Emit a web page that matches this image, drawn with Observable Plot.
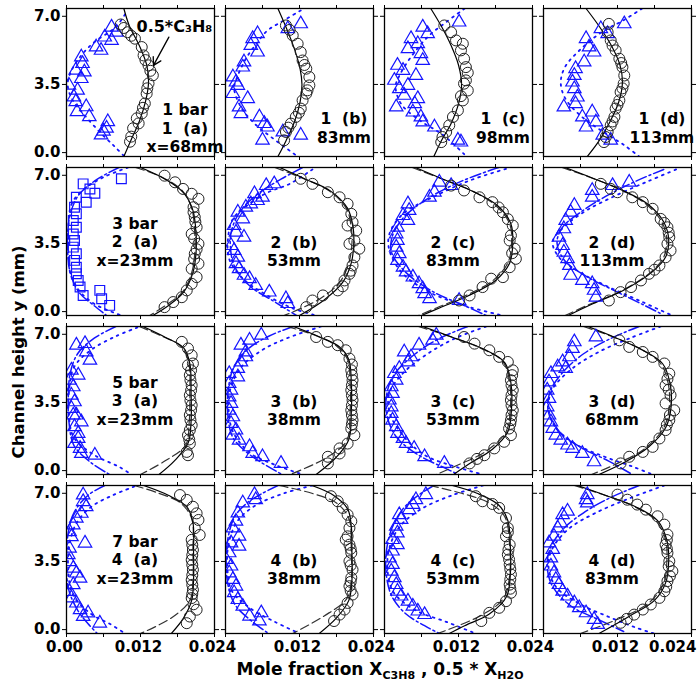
<!DOCTYPE html>
<html><head><meta charset="utf-8">
<script src="https://cdn.jsdelivr.net/npm/d3@7"></script>
<script src="https://cdn.jsdelivr.net/npm/@observablehq/plot@0.6"></script>
<style>body{margin:0;background:#fff}</style>
</head><body><div id="chart"></div>
<script>
// ---------- categories / ticks ----------
const columns = ["a", "b", "c", "d"];
const rows = ["1", "2", "3", "4"];
const xTicks = [0, 0.006, 0.012, 0.018, 0.024];
const yTicks = [0, 3.5, 7.0];
const xTickValues = [0, 0.012, 0.024];
const xTickText = ["0.00", "0.012", "0.024"];
const panelText = {
  "1a": "1 bar\n1\u00a0\u00a0(a)\nx=68mm", "1b": "1\u00a0\u00a0(b)\n83mm", "1c": "1\u00a0\u00a0(c)\n98mm", "1d": "1\u00a0\u00a0(d)\n113mm",
  "2a": "3 bar\n2\u00a0\u00a0(a)\nx=23mm", "2b": "2\u00a0\u00a0(b)\n53mm", "2c": "2\u00a0\u00a0(c)\n83mm", "2d": "2\u00a0\u00a0(d)\n113mm",
  "3a": "5 bar\n3\u00a0\u00a0(a)\nx=23mm", "3b": "3\u00a0\u00a0(b)\n38mm", "3c": "3\u00a0\u00a0(c)\n53mm", "3d": "3\u00a0\u00a0(d)\n68mm",
  "4a": "7 bar\n4\u00a0\u00a0(a)\nx=23mm", "4b": "4\u00a0\u00a0(b)\n38mm", "4c": "4\u00a0\u00a0(c)\n53mm", "4d": "4\u00a0\u00a0(d)\n83mm"
};
const annotation = [{panel: "1a", x: 0.0175, y: 6.48, text: "0.5*C\u2083H\u2088"}];
const annotationArrow = [{panel: "1a", x1: 0.0166, y1: 5.93, x2: 0.0141, y2: 4.48}];

// ---------- measured 0.5*X_C3H8 (circles) ----------
const circles = {
  "1a": [[0.0088,6.58],[0.0093,6.4],[0.0099,6.18],[0.0105,6.0],[0.0111,5.85],[0.0122,5.42],[0.0125,4.99],[0.0128,4.75],[0.0133,4.48],[0.0136,4.2],[0.0140,3.97],[0.0133,3.55],[0.0131,3.3],[0.0130,3.03],[0.0127,2.52],[0.0124,2.3],[0.0122,2.01],[0.0114,1.76],[0.0117,1.5],[0.0108,1.25],[0.0105,0.82],[0.0103,0.56]],
  "1b": [[0.0098,6.53],[0.0104,6.3],[0.0109,6.02],[0.0117,5.59],[0.0122,5.16],[0.0125,4.73],[0.0128,4.5],[0.0131,4.31],[0.0136,3.88],[0.0136,3.45],[0.0133,3.2],[0.0131,3.03],[0.0125,2.68],[0.0122,2.26],[0.0119,2.05],[0.0114,1.83],[0.0106,1.49],[0.0102,1.28],[0.0098,1.06],[0.0095,0.63]],
  "1c": [[0.0097,6.53],[0.0108,6.18],[0.0116,5.76],[0.0127,5.59],[0.0124,5.25],[0.0129,4.82],[0.0132,4.39],[0.0135,4.1],[0.0132,3.71],[0.0129,3.54],[0.0135,3.19],[0.0124,2.9],[0.0127,2.68],[0.0119,2.17],[0.0111,1.83],[0.0105,1.4],[0.0100,1.06],[0.0094,0.8],[0.0092,0.54]],
  "1d": [[0.0106,6.61],[0.0104,6.18],[0.0109,5.76],[0.0112,5.5],[0.0117,5.25],[0.0123,4.82],[0.0126,4.6],[0.0128,4.39],[0.0131,3.96],[0.0130,3.54],[0.0128,3.3],[0.0125,3.11],[0.0123,2.68],[0.0120,2.45],[0.0117,2.26],[0.0115,1.83],[0.0112,1.6],[0.0109,1.4],[0.0104,1.06],[0.0101,0.8],[0.0098,0.54]],
  "2a": [[0.0159,6.98],[0.0176,6.64],[0.0189,6.30],[0.0203,6.05],[0.0214,5.79],[0.0206,5.36],[0.0206,5.1],[0.0208,4.85],[0.0209,4.6],[0.0211,4.33],[0.0203,3.99],[0.0207,3.75],[0.0214,3.48],[0.0211,3.2],[0.0208,2.97],[0.0207,2.7],[0.0214,2.46],[0.0203,2.2],[0.0211,1.77],[0.0203,1.43],[0.0195,1.09],[0.0187,0.74],[0.0173,0.49],[0.0159,0.23]],
  "2b": [[0.0122,6.82],[0.0141,6.56],[0.0166,6.13],[0.0185,5.87],[0.0198,5.53],[0.0204,5.02],[0.0206,4.59],[0.0198,4.42],[0.0212,4.16],[0.0209,3.65],[0.0201,3.48],[0.0217,3.23],[0.0209,2.79],[0.0206,2.37],[0.0203,2.1],[0.0201,1.94],[0.0193,1.6],[0.0190,1.3],[0.0182,1.09],[0.0158,0.83],[0.0141,0.57],[0.0131,0.23]],
  "2c": [[0.0108,6.47],[0.0129,6.22],[0.0154,5.87],[0.0175,5.62],[0.0185,5.35],[0.0192,5.1],[0.0200,4.75],[0.0208,4.42],[0.0205,3.91],[0.0203,3.65],[0.0211,3.23],[0.0207,3.0],[0.0213,2.71],[0.0203,2.28],[0.0192,1.77],[0.0173,1.69],[0.0159,1.26],[0.0138,0.83],[0.0121,0.57]],
  "2d": [[0.0093,6.56],[0.0109,6.3],[0.0120,6.13],[0.0144,5.87],[0.0161,5.62],[0.0177,5.28],[0.0190,4.76],[0.0196,4.55],[0.0201,4.33],[0.0203,4.05],[0.0204,3.82],[0.0201,3.48],[0.0206,3.14],[0.0198,2.79],[0.0188,2.37],[0.0180,2.15],[0.0171,1.94],[0.0158,1.6],[0.0142,1.26],[0.0125,1.0],[0.0106,0.57]],
  "3a": [[0.0187,6.61],[0.0197,6.27],[0.0203,5.92],[0.0205,5.5],[0.0197,5.41],[0.0202,5.15],[0.0200,4.9],[0.0201,4.64],[0.0203,4.38],[0.0202,4.12],[0.0200,3.87],[0.0201,3.6],[0.0203,3.36],[0.0202,3.1],[0.0200,2.85],[0.0201,2.6],[0.0203,2.33],[0.0200,2.08],[0.0197,1.82],[0.0199,1.6],[0.0200,1.39],[0.0195,0.96],[0.0197,0.79]],
  "3b": [[0.0147,6.86],[0.0166,6.61],[0.0182,6.44],[0.0195,6.18],[0.0201,5.75],[0.0205,5.45],[0.0204,5.15],[0.0205,4.9],[0.0206,4.64],[0.0205,4.38],[0.0204,4.13],[0.0205,3.86],[0.0206,3.62],[0.0205,3.35],[0.0204,3.1],[0.0205,2.85],[0.0206,2.59],[0.0205,2.38],[0.0204,2.16],[0.0209,1.82],[0.0198,1.39],[0.0185,1.14],[0.0185,0.88],[0.0166,0.71],[0.0166,0.37]],
  "3c": [[0.0129,6.86],[0.0146,6.52],[0.0170,6.18],[0.0186,5.84],[0.0200,5.58],[0.0208,5.15],[0.0207,4.9],[0.0205,4.64],[0.0206,4.38],[0.0208,4.13],[0.0206,3.86],[0.0205,3.62],[0.0206,3.35],[0.0208,3.1],[0.0206,2.85],[0.0205,2.59],[0.0204,2.4],[0.0202,2.16],[0.0205,1.82],[0.0194,1.48],[0.0178,1.14],[0.0162,0.79],[0.0150,0.6],[0.0138,0.37]],
  "3d": [[0.0123,6.69],[0.0139,6.35],[0.0161,6.09],[0.0177,5.84],[0.0196,5.5],[0.0204,4.98],[0.0201,4.7],[0.0198,4.38],[0.0203,4.15],[0.0206,3.87],[0.0198,3.45],[0.0212,3.1],[0.0205,2.85],[0.0204,2.59],[0.0200,2.35],[0.0198,2.08],[0.0188,1.65],[0.0177,1.22],[0.0161,0.96],[0.0139,0.71],[0.0125,0.37]],
  "4a": [[0.0184,6.91],[0.0195,6.66],[0.0205,6.31],[0.0211,5.97],[0.0214,5.63],[0.0208,5.21],[0.0216,4.86],[0.0203,4.61],[0.0204,4.35],[0.0205,4.09],[0.0204,3.83],[0.0203,3.58],[0.0204,3.32],[0.0205,3.07],[0.0204,2.8],[0.0203,2.55],[0.0204,2.3],[0.0205,2.04],[0.0204,1.83],[0.0203,1.62],[0.0206,1.3],[0.0211,1.02],[0.0200,0.67],[0.0195,0.33]],
  "4b": [[0.0171,6.85],[0.0182,6.59],[0.0190,6.25],[0.0198,5.9],[0.0204,5.56],[0.0201,5.22],[0.0198,4.79],[0.0195,4.62],[0.0201,4.36],[0.0203,4.15],[0.0204,3.94],[0.0201,3.51],[0.0203,3.3],[0.0206,3.08],[0.0204,2.66],[0.0203,2.45],[0.0201,2.23],[0.0203,2.0],[0.0206,1.8],[0.0198,1.37],[0.0193,1.03],[0.0185,0.77],[0.0176,0.44]],
  "4c": [[0.0148,6.85],[0.0159,6.59],[0.0175,6.45],[0.0186,6.25],[0.0197,5.73],[0.0200,5.22],[0.0200,5.0],[0.0197,4.79],[0.0203,4.36],[0.0201,4.1],[0.0200,3.85],[0.0202,3.6],[0.0203,3.34],[0.0204,3.1],[0.0205,2.83],[0.0204,2.57],[0.0203,2.31],[0.0204,2.1],[0.0205,1.89],[0.0197,1.46],[0.0186,1.12],[0.0170,0.86],[0.0157,0.44]],
  "4d": [[0.0120,6.93],[0.0136,6.67],[0.0152,6.42],[0.0166,6.16],[0.0185,5.82],[0.0196,5.39],[0.0201,4.88],[0.0200,4.6],[0.0198,4.36],[0.0200,4.15],[0.0201,3.94],[0.0204,3.51],[0.0203,3.25],[0.0209,3.0],[0.0205,2.75],[0.0201,2.49],[0.0199,2.2],[0.0196,1.97],[0.0188,1.63],[0.0174,1.29],[0.0161,1.03],[0.0147,0.77],[0.0135,0.55],[0.0125,0.35]]
};

// ---------- measured 0.5*X_H2O (triangles, squares in 2a) ----------
const triangles = {
  "1a": [[0.0073,6.44],[0.0081,6.18],[0.0062,5.93],[0.0073,5.76],[0.0048,5.42],[0.0056,5.25],[0.0024,4.91],[0.0026,4.57],[0.0015,4.23],[0.0029,4.14],[0.0024,3.8],[0.0004,3.46],[0.0018,3.2],[0.0012,2.86],[0.0015,2.61],[0.0032,2.35],[0.0017,2.1],[0.0037,1.84],[0.0067,1.58],[0.0065,1.25],[0.0060,1.1],[0.0056,0.9]],
  "1b": [[0.0122,6.61],[0.0101,6.36],[0.0052,6.1],[0.0044,5.85],[0.0041,5.5],[0.0052,5.16],[0.0030,4.65],[0.0028,4.39],[0.0012,3.88],[0.0017,3.62],[0.0020,3.45],[0.0012,3.03],[0.0036,2.77],[0.0022,2.34],[0.0025,2.0],[0.0055,1.83],[0.0063,1.49],[0.0068,1.31],[0.0093,1.06],[0.0122,0.89],[0.0060,0.63]],
  "1c": [[0.0121,6.7],[0.0062,6.44],[0.0070,6.1],[0.0043,5.85],[0.0054,5.59],[0.0038,5.33],[0.0059,5.08],[0.0062,4.73],[0.0021,4.48],[0.0030,4.22],[0.0051,3.96],[0.0016,3.71],[0.0038,3.45],[0.0024,3.28],[0.0032,2.94],[0.0054,2.77],[0.0049,2.51],[0.0019,2.34],[0.0046,2.08],[0.0059,1.83],[0.0062,1.57],[0.0081,1.31],[0.0119,0.63],[0.0124,0.54]],
  "1d": [[0.0131,6.61],[0.0093,6.36],[0.0104,6.1],[0.0069,5.85],[0.0074,5.42],[0.0082,5.16],[0.0066,4.65],[0.0052,4.31],[0.0050,3.96],[0.0047,3.62],[0.0050,3.28],[0.0055,2.85],[0.0052,2.51],[0.0033,2.34],[0.0079,2.08],[0.0063,1.83],[0.0085,1.57],[0.0069,1.31],[0.0096,0.89],[0.0109,0.63]],
  "2b": [[0.0079,6.56],[0.0066,6.47],[0.0047,6.05],[0.0060,5.87],[0.0052,5.7],[0.0041,5.53],[0.0033,5.36],[0.0020,5.1],[0.0028,4.76],[0.0014,4.42],[0.0017,4.08],[0.0030,3.82],[0.0009,3.39],[0.0014,3.14],[0.0020,2.79],[0.0017,2.46],[0.0022,2.2],[0.0030,1.86],[0.0039,1.69],[0.0049,1.34],[0.0071,1.0],[0.0098,0.66],[0.0101,0.41]],
  "2c": [[0.0089,6.64],[0.0108,6.47],[0.0081,6.13],[0.0073,5.87],[0.0038,5.53],[0.0040,5.19],[0.0030,4.93],[0.0038,4.68],[0.0021,4.33],[0.0019,3.99],[0.0021,3.65],[0.0019,3.31],[0.0024,2.97],[0.0021,2.63],[0.0030,2.28],[0.0035,2.03],[0.0046,1.77],[0.0056,1.43],[0.0062,1.17],[0.0065,0.92],[0.0073,0.66],[0.0121,0.57]],
  "2d": [[0.0139,6.64],[0.0112,6.47],[0.0079,6.22],[0.0079,5.87],[0.0050,5.45],[0.0044,5.1],[0.0036,4.68],[0.0033,4.25],[0.0025,3.82],[0.0031,3.39],[0.0033,3.05],[0.0039,2.71],[0.0042,2.37],[0.0044,1.86],[0.0063,1.6],[0.0079,1.43],[0.0082,1.09],[0.0085,0.74]],
  "3a": [[0.0016,6.44],[0.0030,6.52],[0.0032,6.09],[0.0038,5.67],[0.0008,5.15],[0.0019,4.9],[0.0005,4.64],[0.0011,4.3],[0.0008,3.87],[0.0013,3.53],[0.0008,3.19],[0.0016,2.85],[0.0011,2.85],[0.0024,2.5],[0.0013,2.25],[0.0019,1.91],[0.0019,1.65],[0.0013,1.39],[0.0022,1.14],[0.0024,0.88],[0.0046,0.79]],
  "3b": [[0.0058,6.95],[0.0039,6.69],[0.0025,6.44],[0.0033,6.09],[0.0033,5.84],[0.0025,5.58],[0.0020,5.24],[0.0006,4.98],[0.0020,4.81],[0.0006,4.47],[0.0009,4.13],[0.0006,3.78],[0.0009,3.45],[0.0006,3.1],[0.0012,2.76],[0.0009,2.42],[0.0017,2.08],[0.0012,1.82],[0.0022,1.56],[0.0039,1.22],[0.0044,0.88],[0.0060,0.71],[0.0090,0.37]],
  "3c": [[0.0084,6.95],[0.0078,6.69],[0.0056,6.44],[0.0032,6.09],[0.0043,5.84],[0.0038,5.58],[0.0024,5.24],[0.0016,4.98],[0.0019,4.64],[0.0011,4.3],[0.0013,3.96],[0.0008,3.62],[0.0011,3.27],[0.0011,2.93],[0.0013,2.59],[0.0019,2.25],[0.0021,1.91],[0.0030,1.65],[0.0035,1.39],[0.0048,1.14],[0.0065,0.71],[0.0097,0.37]],
  "3d": [[0.0085,6.86],[0.0050,6.61],[0.0047,6.27],[0.0042,5.84],[0.0031,5.58],[0.0023,5.32],[0.0036,5.24],[0.0012,4.98],[0.0009,4.55],[0.0006,4.13],[0.0009,3.7],[0.0006,3.27],[0.0009,2.85],[0.0012,2.5],[0.0015,2.16],[0.0020,1.82],[0.0028,1.56],[0.0039,1.31],[0.0047,1.14],[0.0063,0.88],[0.0082,0.45]],
  "4a": [[0.0027,6.91],[0.0027,6.57],[0.0032,6.31],[0.0024,5.97],[0.0016,5.72],[0.0011,5.37],[0.0005,5.03],[0.0008,4.77],[0.0030,4.44],[0.0005,4.18],[0.0003,3.84],[0.0005,3.49],[0.0011,3.15],[0.0016,2.9],[0.0022,2.64],[0.0011,2.3],[0.0005,1.95],[0.0008,1.62],[0.0016,1.36],[0.0022,1.02],[0.0035,0.85],[0.0027,0.67],[0.0054,0.33]],
  "4b": [[0.0047,6.93],[0.0049,6.67],[0.0028,6.5],[0.0020,5.99],[0.0017,5.56],[0.0012,5.22],[0.0022,4.79],[0.0009,4.45],[0.0022,4.28],[0.0006,3.94],[0.0001,3.6],[0.0009,3.26],[0.0006,2.91],[0.0012,2.57],[0.0017,2.23],[0.0014,1.89],[0.0020,1.54],[0.0028,1.2],[0.0039,0.69],[0.0058,0.86],[0.0055,0.44]],
  "4c": [[0.0067,6.93],[0.0051,6.67],[0.0046,6.42],[0.0040,6.16],[0.0024,5.9],[0.0027,5.65],[0.0019,5.31],[0.0021,4.96],[0.0013,4.62],[0.0021,4.36],[0.0013,4.03],[0.0008,3.68],[0.0013,3.34],[0.0011,3.0],[0.0016,2.66],[0.0019,2.31],[0.0021,1.97],[0.0027,1.72],[0.0038,1.46],[0.0046,1.2],[0.0054,0.95],[0.0065,0.77]],
  "4d": [[0.0071,6.93],[0.0069,6.67],[0.0071,6.5],[0.0039,6.08],[0.0031,5.9],[0.0028,5.48],[0.0023,5.22],[0.0017,4.79],[0.0009,4.45],[0.0015,4.11],[0.0012,3.68],[0.0012,3.26],[0.0017,2.91],[0.0020,2.57],[0.0025,2.31],[0.0031,1.97],[0.0039,1.72],[0.0050,1.37],[0.0058,1.12],[0.0069,0.86],[0.0082,0.52],[0.0088,0.26]]
};
const squares = {
  "2a": [[0.0089,6.82],[0.0027,6.56],[0.0038,6.3],[0.0046,6.08],[0.0016,5.87],[0.0032,5.62],[0.0013,5.36],[0.0016,5.02],[0.0011,4.68],[0.0016,4.33],[0.0011,3.99],[0.0013,3.65],[0.0011,3.31],[0.0016,2.97],[0.0013,2.63],[0.0016,2.28],[0.0016,1.94],[0.0019,1.6],[0.0022,1.26],[0.0054,1.09],[0.0027,0.83],[0.0057,0.66],[0.0070,0.32]]
};

// ---------- model curves ----------
const solidCurves = {
  "1a": [[0.0093,7.4],[0.0102,6.5],[0.0118,5.5],[0.0130,4.5],[0.0133,3.6],[0.0128,2.6],[0.0118,1.6],[0.0104,0.6],[0.0093,-0.2]],
  "1b": [[0.0085,7.4],[0.0100,6.3],[0.0112,5.3],[0.0121,4.3],[0.0124,3.5],[0.0121,2.6],[0.0112,1.6],[0.0098,0.6],[0.0085,-0.2]],
  "1c": [[0.0075,7.4],[0.0092,6.5],[0.0108,5.5],[0.0120,4.5],[0.0125,3.5],[0.0120,2.5],[0.0108,1.5],[0.0092,0.6],[0.0080,-0.2]],
  "1d": [[0.0069,7.4],[0.0090,6.5],[0.0110,5.5],[0.0124,4.5],[0.0128,3.6],[0.0122,2.6],[0.0108,1.6],[0.0090,0.6],[0.0071,-0.2]],
  "2a": [[0.0120,7.4],[0.0160,6.8],[0.0190,6.1],[0.0205,5.2],[0.0210,4.0],[0.0210,3.0],[0.0205,2.0],[0.0190,1.0],[0.0165,0.3],[0.0140,-0.2]],
  "2b": [[0.0088,7.4],[0.0130,6.8],[0.0170,6.2],[0.0198,5.3],[0.0207,4.3],[0.0208,3.5],[0.0204,2.5],[0.0190,1.5],[0.0160,0.6],[0.0120,-0.2]],
  "2c": [[0.0050,7.4],[0.0095,6.8],[0.0145,6.15],[0.0185,5.4],[0.0205,4.5],[0.0208,3.5],[0.0203,2.5],[0.0180,1.6],[0.0135,0.8],[0.0090,0.2],[0.0060,-0.2]],
  "2d": [[0.0035,7.4],[0.0080,6.85],[0.0130,6.2],[0.0170,5.5],[0.0195,4.6],[0.0203,3.7],[0.0198,2.8],[0.0175,2.0],[0.0130,1.1],[0.0080,0.4],[0.0040,-0.2]],
  "3a": [[0.0124,7.4],[0.0160,6.85],[0.0190,6.3],[0.0200,5.5],[0.0202,4.0],[0.0202,2.5],[0.0197,1.4],[0.0175,0.5],[0.0150,-0.2]],
  "3b": [[0.0110,7.4],[0.0150,6.9],[0.0185,6.35],[0.0200,5.7],[0.0204,4.5],[0.0204,3.0],[0.0200,1.6],[0.0180,0.7],[0.0147,-0.2]],
  "3c": [[0.0062,7.4],[0.0110,6.85],[0.0160,6.25],[0.0195,5.55],[0.0205,4.5],[0.0206,3.2],[0.0200,2.0],[0.0175,1.1],[0.0140,0.4],[0.0112,-0.2]],
  "3d": [[0.0072,7.4],[0.0115,6.85],[0.0160,6.2],[0.0193,5.5],[0.0205,4.5],[0.0207,3.3],[0.0198,2.2],[0.0170,1.2],[0.0130,0.4],[0.0090,-0.2]],
  "4a": [[0.0125,7.4],[0.0165,6.9],[0.0195,6.3],[0.0205,5.5],[0.0206,4.0],[0.0206,2.5],[0.0203,1.5],[0.0190,0.6],[0.0170,-0.2]],
  "4b": [[0.0140,7.4],[0.0175,6.9],[0.0198,6.2],[0.0204,5.3],[0.0205,4.0],[0.0205,2.5],[0.0200,1.5],[0.0180,0.6],[0.0152,-0.2]],
  "4c": [[0.0110,7.4],[0.0150,7.0],[0.0185,6.4],[0.0200,5.6],[0.0204,4.3],[0.0204,2.8],[0.0198,1.7],[0.0170,0.8],[0.0130,0.2],[0.0105,-0.2]],
  "4d": [[0.0055,7.4],[0.0100,6.9],[0.0150,6.3],[0.0185,5.6],[0.0200,4.6],[0.0203,3.5],[0.0198,2.4],[0.0180,1.5],[0.0140,0.7],[0.0090,-0.2]]
};
const dashedCurves = {
  "2a": [[0.0112,7.4],[0.0155,6.9],[0.0188,6.2],[0.0203,5.3],[0.0208,4.0],[0.0208,3.0],[0.0203,2.0],[0.0188,1.0],[0.0160,0.3],[0.0135,-0.2]],
  "2b": [[0.0080,7.4],[0.0125,6.85],[0.0168,6.2],[0.0196,5.3],[0.0204,4.3],[0.0205,3.5],[0.0200,2.5],[0.0185,1.5],[0.0150,0.6],[0.0095,-0.2]],
  "2c": [[0.0045,7.4],[0.0090,6.85],[0.0142,6.2],[0.0182,5.4],[0.0203,4.5],[0.0206,3.5],[0.0200,2.5],[0.0176,1.6],[0.0130,0.8],[0.0085,0.2],[0.0055,-0.2]],
  "2d": [[0.0030,7.4],[0.0075,6.9],[0.0126,6.25],[0.0167,5.5],[0.0192,4.6],[0.0200,3.7],[0.0195,2.8],[0.0171,1.95],[0.0125,1.05],[0.0073,0.35],[0.0035,-0.2]],
  "3a": [[0.0118,7.4],[0.0155,6.9],[0.0185,6.4],[0.0198,5.6],[0.0200,4.0],[0.0199,2.5],[0.0193,1.3],[0.0160,0.5],[0.0120,-0.2]],
  "3b": [[0.0100,7.4],[0.0145,6.95],[0.0180,6.4],[0.0198,5.7],[0.0202,4.5],[0.0202,3.0],[0.0196,1.5],[0.0160,0.6],[0.0105,-0.2]],
  "3c": [[0.0055,7.4],[0.0105,6.9],[0.0155,6.3],[0.0192,5.6],[0.0203,4.5],[0.0204,3.2],[0.0197,2.0],[0.0165,1.0],[0.0120,0.3],[0.0084,-0.2]],
  "3d": [[0.0065,7.4],[0.0110,6.9],[0.0157,6.25],[0.0190,5.5],[0.0202,4.5],[0.0204,3.3],[0.0195,2.2],[0.0163,1.1],[0.0115,0.3],[0.0078,-0.2]],
  "4a": [[0.0110,7.4],[0.0150,7.0],[0.0185,6.5],[0.0203,5.7],[0.0205,4.0],[0.0205,2.5],[0.0200,1.5],[0.0170,0.6],[0.0120,-0.2]],
  "4b": [[0.0087,7.4],[0.0140,7.0],[0.0180,6.5],[0.0200,5.7],[0.0204,4.0],[0.0204,2.5],[0.0197,1.6],[0.0160,0.7],[0.0109,-0.2]],
  "4c": [[0.0073,7.4],[0.0125,7.0],[0.0170,6.5],[0.0195,5.8],[0.0203,4.3],[0.0203,2.8],[0.0193,1.6],[0.0155,0.7],[0.0086,-0.2]],
  "4d": [[0.0050,7.4],[0.0095,6.95],[0.0145,6.35],[0.0182,5.6],[0.0198,4.6],[0.0200,3.5],[0.0195,2.4],[0.0172,1.4],[0.0125,0.6],[0.0060,-0.2]]
};
const dottedCurves = {
  "1a": [[0.0095,7.1],[0.0084,6.6],[0.0073,6.27],[0.0045,5.67],[0.0024,4.99],[0.0007,4.14],[0.0002,3.46],[0.0010,2.69],[0.0029,1.93],[0.0056,0.99],[0.0078,0.31],[0.0094,-0.2]],
  "1b": [[0.0122,7.3],[0.0090,6.7],[0.0068,6.27],[0.0052,5.67],[0.0033,4.82],[0.0017,3.71],[0.0014,3.28],[0.0025,2.34],[0.0047,1.49],[0.0074,0.8],[0.0117,-0.2]],
  "1c": [[0.0130,7.4],[0.0100,6.7],[0.0072,6.0],[0.0045,5.0],[0.0025,4.0],[0.0018,3.4],[0.0027,2.5],[0.0055,1.7],[0.0095,0.9],[0.0133,-0.2]],
  "1d": [[0.0160,7.4],[0.0130,6.8],[0.0095,6.2],[0.0060,5.3],[0.0035,4.4],[0.0028,3.6],[0.0035,2.8],[0.0060,1.9],[0.0095,1.1],[0.0130,0.4],[0.0155,-0.2]],
  "2a": [[0.0100,7.4],[0.0060,6.9],[0.0025,6.2],[0.0008,5.5],[0.0003,4.3],[0.0003,3.0],[0.0006,2.0],[0.0020,1.1],[0.0045,0.4],[0.0089,-0.2]],
  "2b": [[0.0141,7.3],[0.0104,6.56],[0.0066,6.08],[0.0033,5.4],[0.0012,4.76],[0.0004,3.73],[0.0006,2.7],[0.0028,1.7],[0.0066,0.86],[0.0109,0.17],[0.0147,-0.2]],
  "2c": [[0.0197,7.33],[0.0138,6.73],[0.0078,5.87],[0.0030,5.02],[0.0008,3.99],[0.0008,3.14],[0.0030,1.94],[0.0078,0.92],[0.0138,0.23],[0.0192,-0.2]],
  "2d": [[0.0215,7.3],[0.0170,6.7],[0.0120,6.0],[0.0070,5.2],[0.0035,4.4],[0.0015,3.6],[0.0025,2.8],[0.0060,2.0],[0.0110,1.2],[0.0160,0.5],[0.0205,-0.15]],
  "3a": [[0.0115,7.35],[0.0080,6.9],[0.0040,6.2],[0.0012,5.3],[0.0004,4.0],[0.0004,2.8],[0.0012,1.7],[0.0045,0.8],[0.0085,0.2],[0.0105,-0.2]],
  "3b": [[0.0155,7.4],[0.0100,6.8],[0.0060,6.2],[0.0025,5.3],[0.0008,4.2],[0.0005,3.2],[0.0012,2.0],[0.0040,0.9],[0.0080,0.3],[0.0125,-0.2]],
  "3c": [[0.0165,7.4],[0.0115,6.8],[0.0070,6.0],[0.0030,5.0],[0.0008,4.0],[0.0008,3.0],[0.0030,1.8],[0.0065,0.8],[0.0115,0.2],[0.0160,-0.2]],
  "3d": [[0.0190,7.4],[0.0140,6.8],[0.0090,6.1],[0.0045,5.2],[0.0015,4.2],[0.0008,3.3],[0.0018,2.3],[0.0050,1.4],[0.0100,0.7],[0.0145,0.2],[0.0177,-0.2]],
  "4a": [[0.0110,7.35],[0.0075,6.9],[0.0040,6.3],[0.0015,5.4],[0.0004,4.2],[0.0003,3.0],[0.0010,1.8],[0.0040,0.8],[0.0070,0.3],[0.0095,-0.2]],
  "4b": [[0.0141,7.4],[0.0095,7.0],[0.0050,6.4],[0.0020,5.6],[0.0005,4.4],[0.0003,3.2],[0.0010,2.0],[0.0040,1.1],[0.0080,0.4],[0.0120,-0.2]],
  "4c": [[0.0160,7.4],[0.0110,6.9],[0.0060,6.2],[0.0025,5.3],[0.0008,4.2],[0.0005,3.0],[0.0015,1.9],[0.0050,1.0],[0.0100,0.4],[0.0148,-0.2]],
  "4d": [[0.0196,7.4],[0.0140,6.75],[0.0085,6.0],[0.0042,5.2],[0.0015,4.2],[0.0008,3.3],[0.0020,2.2],[0.0060,1.3],[0.0110,0.6],[0.0150,0.1],[0.0179,-0.2]]
};
const dashDotCurves = {
  "2a": [[0.0085,7.4],[0.0050,6.8],[0.0020,6.0],[0.0006,5.0],[0.0002,4.0],[0.0002,3.0],[0.0006,2.0],[0.0020,1.0],[0.0045,0.3],[0.0065,-0.2]],
  "2b": [[0.0125,7.4],[0.0090,6.8],[0.0055,6.1],[0.0025,5.2],[0.0010,4.2],[0.0008,3.3],[0.0015,2.3],[0.0040,1.3],[0.0080,0.5],[0.0115,-0.2]],
  "2c": [[0.0185,7.4],[0.0125,6.7],[0.0070,5.8],[0.0030,4.8],[0.0012,3.8],[0.0012,3.0],[0.0035,2.0],[0.0080,1.0],[0.0130,0.3],[0.0165,-0.2]],
  "2d": [[0.0195,7.3],[0.0150,6.7],[0.0100,5.9],[0.0060,5.1],[0.0030,4.3],[0.0022,3.5],[0.0035,2.6],[0.0070,1.8],[0.0120,1.0],[0.0165,0.3],[0.0190,-0.1]],
  "3a": [[0.0080,7.4],[0.0045,6.8],[0.0018,6.0],[0.0006,5.0],[0.0003,3.8],[0.0004,2.5],[0.0012,1.3],[0.0040,0.4],[0.0070,-0.2]],
  "3b": [[0.0110,7.4],[0.0070,6.9],[0.0035,6.2],[0.0012,5.2],[0.0004,4.0],[0.0004,2.8],[0.0012,1.7],[0.0040,0.8],[0.0092,-0.2]],
  "3c": [[0.0135,7.4],[0.0090,6.8],[0.0050,6.0],[0.0015,4.9],[0.0003,3.8],[0.0005,2.7],[0.0020,1.7],[0.0055,0.8],[0.0100,0.1],[0.0120,-0.2]],
  "3d": [[0.0155,7.4],[0.0110,6.8],[0.0065,6.0],[0.0030,5.0],[0.0010,4.0],[0.0008,3.0],[0.0025,2.0],[0.0060,1.2],[0.0105,0.5],[0.0144,-0.2]],
  "4a": [[0.0062,7.4],[0.0035,6.9],[0.0012,6.0],[0.0003,5.0],[0.0000,4.0],[0.0000,3.0],[0.0004,2.0],[0.0018,1.0],[0.0035,0.3],[0.0050,-0.2]],
  "4b": [[0.0085,7.4],[0.0060,7.0],[0.0035,6.5],[0.0015,5.8],[0.0004,4.7],[0.0001,3.5],[0.0004,2.3],[0.0015,1.3],[0.0040,0.5],[0.0070,-0.2]],
  "4c": [[0.0080,7.4],[0.0055,6.9],[0.0030,6.2],[0.0012,5.2],[0.0003,4.0],[0.0003,2.8],[0.0012,1.7],[0.0035,0.8],[0.0065,0.2],[0.0089,-0.2]],
  "4d": [[0.0155,7.4],[0.0110,6.8],[0.0065,6.0],[0.0030,5.1],[0.0010,4.1],[0.0006,3.2],[0.0015,2.2],[0.0045,1.2],[0.0090,0.5],[0.0130,-0.1]]
};

// ---------- build tables ----------
function flat(obj) {
  const out = [];
  for (const [id, pts] of Object.entries(obj))
    for (const [x, y] of pts) out.push({id, fy: id[0], fx: id[1], x, y});
  return out;
}
const blue = "#1414ff";
const labelRows = Object.entries(panelText).map(([id, text]) => {
  const n = text.split("\n").length;
  const top = id[0] === "1";
  return {fy: id[0], fx: id[1], text, x: top ? 0.0192 : 0.0111, y: top ? 1.28 : (n === 3 ? 3.6 : 3.1)};
});
const xLabelRows = columns.flatMap(c => xTickValues.map((v, i) => ({fx: c, fy: "4", x: v, text: xTickText[i], last: c === "d" && i === 2}))
  .filter(d => c === "a" || d.x > 0));
const ann = annotation.map(d => ({...d, fy: d.panel[0], fx: d.panel[1]}));
const annArrow = annotationArrow.map(d => ({...d, fy: d.panel[0], fx: d.panel[1]}));
const common = {x: "x", y: "y", fx: "fx", fy: "fy", clip: true};
const lineCommon = {...common, z: "id", curve: "catmull-rom"};
const noText = () => "";

const chart = Plot.plot({
  width: 699, height: 686,
  marginLeft: 65, marginRight: 8, marginTop: 7, marginBottom: 52,
  style: {fontFamily: "DejaVu Sans, Verdana, sans-serif", fontWeight: "bold", fontSize: "15px", color: "black", background: "white"},
  fx: {domain: columns, paddingInner: 0.07, paddingOuter: 0, axis: null},
  fy: {domain: rows, paddingInner: 0.07, paddingOuter: 0, axis: null},
  x: {domain: [0, 0.024]},
  y: {domain: [-0.2, 7.4]},
  marks: [
    Plot.line(flat(dottedCurves), {...lineCommon, stroke: blue, strokeWidth: 1.8, strokeDasharray: "1.8,5"}),
    Plot.line(flat(dashDotCurves), {...lineCommon, stroke: blue, strokeWidth: 1.5, strokeDasharray: "11,3,2,3"}),
    Plot.line(flat(dashedCurves), {...lineCommon, stroke: "#333", strokeWidth: 1.2, strokeDasharray: "9,4"}),
    Plot.line(flat(solidCurves), {...lineCommon, stroke: "black", strokeWidth: 1.2}),
    Plot.dot(flat(triangles), {...common, symbol: "triangle", r: 5, stroke: blue, strokeWidth: 1.2, fill: "none"}),
    Plot.dot(flat(squares), {...common, symbol: "square", r: 5.5, stroke: blue, strokeWidth: 1.2, fill: "none"}),
    Plot.dot(flat(circles), {...common, r: 5.5, stroke: "#222", strokeWidth: 1, fill: "none"}),
    Plot.frame({stroke: "black", strokeWidth: 1.3}),
    Plot.axisX({anchor: "bottom", ticks: xTicks, tickSize: 4, tickFormat: noText, label: null, facetAnchor: null}),
    Plot.axisX({anchor: "top", ticks: xTicks, tickSize: 4, tickFormat: noText, label: null, facetAnchor: null}),
    Plot.axisY({anchor: "left", ticks: yTicks, tickSize: 4, tickFormat: noText, label: null, facetAnchor: null}),
    Plot.axisY({anchor: "right", ticks: yTicks, tickSize: 4, tickFormat: noText, label: null, facetAnchor: null}),
    Plot.axisY({anchor: "left", ticks: yTicks, tickSize: 0, tickPadding: 6, tickFormat: d3.format(".1f"), label: null, fontSize: 15}),
    Plot.text(xLabelRows.filter(d => !d.last), {x: "x", fx: "fx", fy: "fy", text: "text", frameAnchor: "bottom", lineAnchor: "top", dy: 8, dx: -2, fontSize: 15}),
    Plot.text(xLabelRows.filter(d => d.last), {x: "x", fx: "fx", fy: "fy", text: "text", frameAnchor: "bottom", lineAnchor: "top", dy: 8, dx: 5, textAnchor: "end", fontSize: 15}),
    Plot.text(labelRows, {x: "x", y: "y", fx: "fx", fy: "fy", text: "text", lineHeight: 1.2, fontSize: 15.5}),
    Plot.text(ann, {x: "x", y: "y", fx: "fx", fy: "fy", text: "text", fontSize: 16}),
    Plot.arrow(annArrow, {x1: "x1", y1: "y1", x2: "x2", y2: "y2", fx: "fx", fy: "fy", stroke: "black", strokeWidth: 1.3, headLength: 10})
  ]
});
document.getElementById("chart").append(chart);

// axis titles
const svg = d3.select(chart);
svg.append("text")
  .attr("transform", "translate(19,352) rotate(-90)")
  .attr("text-anchor", "middle").attr("dominant-baseline", "middle")
  .style("font-size", "16.5px").style("font-weight", "bold")
  .text("Channel height y (mm)");
const t = svg.append("text").attr("x", 380).attr("y", 675).attr("text-anchor", "middle")
  .style("font-size", "17px").style("font-weight", "bold");
t.append("tspan").text("Mole fraction X");
t.append("tspan").attr("dy", 4).style("font-size", "11px").text("C3H8");
t.append("tspan").attr("dy", -4).text(" , 0.5 * X");
t.append("tspan").attr("dy", 4).style("font-size", "11px").text("H2O");
</script>
</body></html>
